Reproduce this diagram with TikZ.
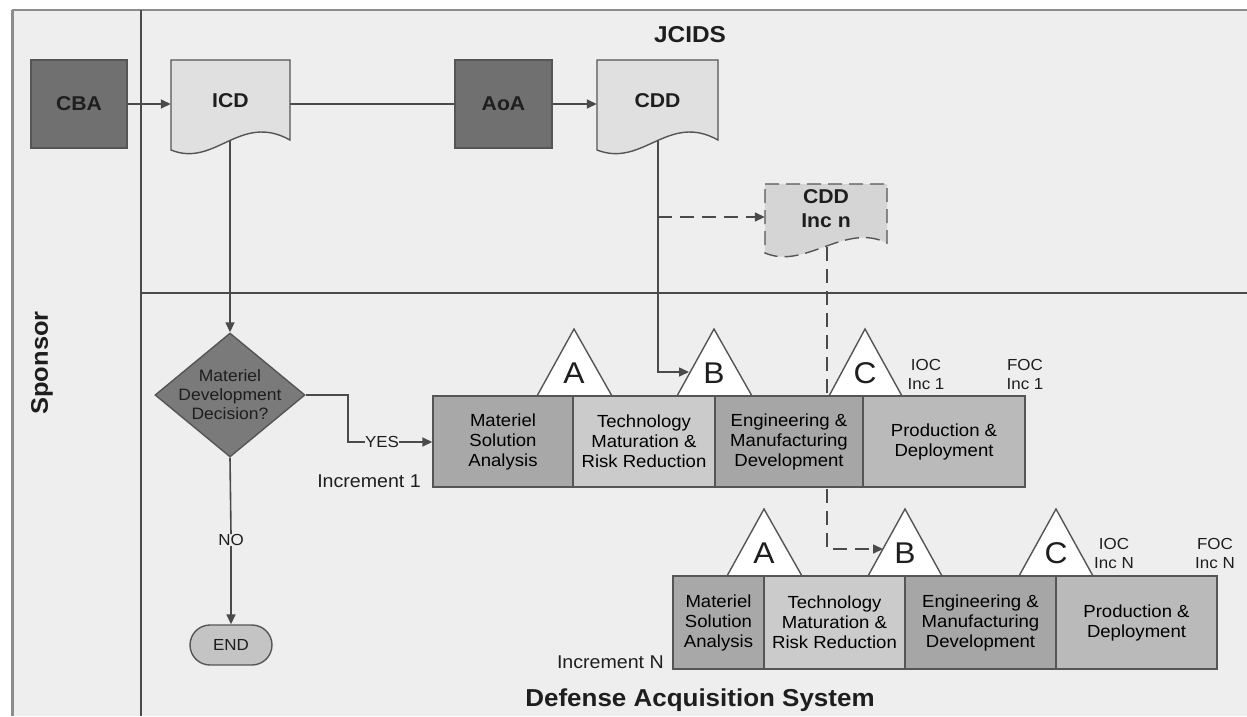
\documentclass[tikz,border=0pt]{standalone}
\usepackage{fontspec}
\setmainfont[FakeStretch=1.06]{Liberation Sans}
\usetikzlibrary{arrows.meta,shapes.geometric}
\pgfdeclarelayer{bg}\pgfdeclarelayer{conn}\pgfsetlayers{bg,conn,main}
\definecolor{bgc}{HTML}{EEEEEE}
\definecolor{lc}{HTML}{4A4A4A}
\definecolor{bc}{HTML}{555555}
\definecolor{dark}{HTML}{707070}
\definecolor{dia}{HTML}{7A7A7A}
\definecolor{docf}{HTML}{E0E0E0}
\definecolor{pa}{HTML}{A8A8A8}
\definecolor{pb}{HTML}{CBCBCB}
\definecolor{pc}{HTML}{A6A6A6}
\definecolor{pd}{HTML}{BABABA}
\definecolor{endc}{HTML}{C4C4C4}
\definecolor{txt}{HTML}{1E1E1E}
\newcommand\myfs[2]{\fontsize{#1}{#2}\selectfont}
\tikzset{
  line/.style={draw=lc, line width=1.6pt},
  arr/.style={line, -{Triangle[length=10pt,width=9pt]}},
  dline/.style={line, dash pattern=on 14pt off 8pt},
  darkbox/.style={draw=bc, fill=dark, line width=1.4pt, inner sep=0, font=\myfs{20}{24}\bfseries, text=txt},
  docfill/.style={draw=bc, fill=docf, line width=1.4pt},
  doctext/.style={inner sep=0, font=\myfs{20}{24}\bfseries, text=txt, align=center},
  phase/.style={draw=bc, line width=1.4pt, inner sep=0, align=center, font=\myfs{17.5}{20}, text=black},
  tri/.style={draw=bc, fill=white, line width=1.4pt},
  letter/.style={inner sep=0, font=\myfs{30}{34}, text=txt},
  small/.style={inner sep=0, align=center, font=\myfs{16}{19}, text=txt},
  lbl/.style={inner sep=0, font=\myfs{18.5}{22}, text=txt},
  title/.style={inner sep=0, font=\myfs{23}{27}\bfseries, text=txt}
}
\begin{document}
\begin{tikzpicture}[x=1pt,y=-1pt]
\useasboundingbox (0,0) rectangle (1247,716);
\begin{pgfonlayer}{bg}
  \fill[white] (0,0) rectangle (1247,716);
  \fill[bgc] (12,10) rectangle (1247,716);
  \draw[draw=gray!90, line width=2pt] (12,10) -- (1247,10);
  \draw[draw=gray!90, line width=3pt] (12,10) -- (12,716);
  \draw[line, line width=1.8pt] (141,10) -- (141,716);
  \draw[line, line width=1.8pt] (141,293) -- (1247,293);
\end{pgfonlayer}

% titles
\node[title] (jcids) at (690,35) {JCIDS};
\node[title, font=\myfs{24.5}{28}\bfseries] (das) at (700,700) {Defense Acquisition System};
\node[title, font=\myfs{24}{28}\bfseries, rotate=90] (sponsor) at (42,363) {Sponsor};

% top row
\node[darkbox, minimum width=96pt, minimum height=88pt] (cba) at (79,104) {CBA};
\node[darkbox, minimum width=97pt, minimum height=88pt] (aoa) at (503.5,104) {AoA};

\path[docfill] (171,60) -- (290,60) -- (290,140) .. controls (240,112) and (215,168) .. (171,150) -- cycle;
\node[doctext, minimum width=119pt, minimum height=80pt] (icd) at (230.5,101) {ICD};
\path[docfill] (597,60) -- (718,60) -- (718,140) .. controls (668,112) and (643,168) .. (597,150) -- cycle;
\node[doctext, minimum width=121pt, minimum height=80pt] (cdd) at (657.5,101) {CDD};
\path[docfill, fill=docf!95!black, dash pattern=on 14pt off 7pt] (765,184) -- (887,184) -- (887,243) .. controls (845,222) and (805,270) .. (765,253) -- cycle;
\node[doctext, minimum width=122pt, minimum height=50pt] (cddn) at (826,209) {CDD\\Inc n};

\coordinate (icdb) at (230,141);
\coordinate (cddb) at (658,141);
\coordinate (cddnb) at (827,247);
\coordinate (j1) at (658,217);

% decision
\node[diamond, draw=bc, fill=dia, line width=1.4pt, minimum width=150pt, minimum height=124pt, inner sep=0] (dec) at (230,395) {};
\node[small, font=\myfs{16.5}{19}] (dect) at (230,395) {Materiel\\Development\\Decision?};
\node[small] (yes) at (382,442) {YES};
\node[small] (no) at (231,540) {NO};
\node[draw=bc, fill=endc, line width=1.4pt, rounded corners=20pt, minimum width=82pt, minimum height=40pt, inner sep=0, font=\myfs{16}{19}, text=txt] (end) at (231,645) {END};

% Increment 1
\path[tri] (537,396) -- (574,329) -- (612,396) -- cycle;
\path[tri] (677,396) -- (714,329) -- (752,396) -- cycle;
\path[tri] (829,396) -- (865,329) -- (902,396) -- cycle;
\node[letter] (a1) at (574,373) {A};
\node[letter] (b1) at (714,373) {B};
\node[letter] (c1) at (865,373) {C};
\coordinate (b1w) at (689,372);
\node[phase, fill=pa, minimum width=140pt, minimum height=91pt] (m1) at (503,441.5) {Materiel\\Solution\\Analysis};
\node[phase, fill=pb, minimum width=142pt, minimum height=91pt] (t1) at (644,441.5) {Technology\\Maturation \&\\Risk Reduction};
\node[phase, fill=pc, minimum width=148pt, minimum height=91pt] (e1) at (789,441.5) {Engineering \&\\Manufacturing\\Development};
\node[phase, fill=pd, minimum width=162pt, minimum height=91pt] (p1) at (944,441.5) {Production \&\\Deployment};
\node[small] (ioc1) at (926,374) {IOC\\Inc 1};
\node[small] (foc1) at (1025,374) {FOC\\Inc 1};
\node[lbl, anchor=east] (inc1) at (421,481) {Increment 1};

% Increment N
\path[tri] (727,576) -- (764,509) -- (802,576) -- cycle;
\path[tri] (868,576) -- (905,509) -- (942,576) -- cycle;
\path[tri] (1019,576) -- (1056,509) -- (1093,576) -- cycle;
\node[letter] (aN) at (764,553) {A};
\node[letter] (bN) at (905,553) {B};
\node[letter] (cN) at (1056,553) {C};
\coordinate (bNw) at (883,549);
\node[phase, fill=pa, minimum width=91pt, minimum height=93pt] (mN) at (718.5,622.5) {Materiel\\Solution\\Analysis};
\node[phase, fill=pb, minimum width=141pt, minimum height=93pt] (tN) at (834.5,622.5) {Technology\\Maturation \&\\Risk Reduction};
\node[phase, fill=pc, minimum width=151pt, minimum height=93pt] (eN) at (980.5,622.5) {Engineering \&\\Manufacturing\\Development};
\node[phase, fill=pd, minimum width=161pt, minimum height=93pt] (pN) at (1136.5,622.5) {Production \&\\Deployment};
\node[small] (iocN) at (1114,553) {IOC\\Inc N};
\node[small] (focN) at (1215,553) {FOC\\Inc N};
\node[lbl, anchor=east] (incN) at (664,662) {Increment N};

% connectors
\begin{pgfonlayer}{conn}
  \draw[arr] (cba.east) -- (cba.east -| icd.west);
  \draw[line] (cba.east -| icd.east) -- (aoa.west);
  \draw[arr] (aoa.east) -- (aoa.east -| cdd.west);
  \draw[arr] (icdb) -- (dec.north);
  \draw[arr] (cddb) |- (b1w);
  \draw[dline, -{Triangle[length=10pt,width=9pt]}] (j1) -- (cddn.west |- j1);
  \draw[dline, -{Triangle[length=10pt,width=9pt]}] (cddnb) |- (bNw);
  \draw[line] (dec.east) -- ++(42,0) |- (yes.west);
  \draw[arr] (yes.east) -- (yes.east -| m1.west);
  \draw[line] (dec.south) -- (no.north);
  \draw[arr] (no.south) -- (end.north);
\end{pgfonlayer}
\end{tikzpicture}
\end{document}
